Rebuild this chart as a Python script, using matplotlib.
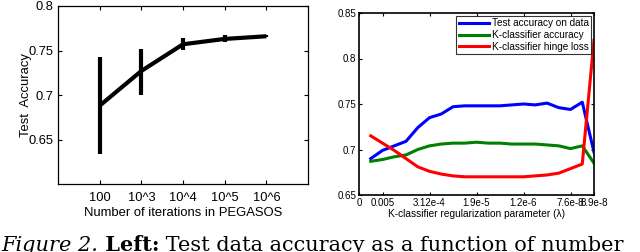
import numpy as np
import matplotlib
matplotlib.use('Agg')
import matplotlib.pyplot as plt

plt.rcParams['font.family'] = ['Liberation Sans', 'DejaVu Sans']

# left panel: PEGASOS iterations
iter_labels = ['100', '10^3', '10^4', '10^5', '10^6']
iter_pos = [1, 2, 3, 4, 5]
acc_mean = [0.688, 0.727, 0.757, 0.763, 0.766]
acc_lo = [0.634, 0.700, 0.751, 0.760, 0.765]
acc_hi = [0.743, 0.752, 0.764, 0.767, 0.767]

# right panel: regularization sweep
lam_pos = [0.5, 1.0, 1.5, 2.0, 2.5, 3.0, 3.5, 4.0, 4.5, 5.0,
           5.5, 6.0, 6.5, 7.0, 7.5, 8.0, 8.5, 9.0, 9.5, 10.0]
test_acc = [0.690, 0.699, 0.704, 0.709, 0.724, 0.735, 0.739, 0.747, 0.748, 0.748,
            0.748, 0.748, 0.749, 0.750, 0.749, 0.751, 0.746, 0.744, 0.752, 0.697]
kc_acc = [0.687, 0.689, 0.692, 0.694, 0.700, 0.704, 0.706, 0.707, 0.707, 0.708,
          0.707, 0.707, 0.706, 0.706, 0.706, 0.705, 0.704, 0.701, 0.704, 0.685]
kc_hinge = [0.715, 0.707, 0.699, 0.690, 0.681, 0.676, 0.673, 0.671, 0.670, 0.670,
            0.670, 0.670, 0.670, 0.670, 0.671, 0.672, 0.674, 0.679, 0.684, 0.820]
lam_tick_pos = [0, 1, 3, 5, 7, 9, 10]
lam_tick_labels = ['0', '0.005', '3.12e-4', '1.9e-5', '1.2e-6', '7.6e-8', '8.9e-8']

W, H = 640, 252
fig = plt.figure(figsize=(6.4, 2.52), dpi=100)

###################### left ######################
ax1 = fig.add_axes([58/W, 1-184/H, 250/W, 178/H])
ax1.plot(iter_pos, acc_mean, color='black', lw=3, solid_capstyle='butt')
ax1.vlines(iter_pos, acc_lo, acc_hi, color='black', lw=3)
ax1.set_xlim(0, 6)
ax1.set_ylim(0.6, 0.8)
ax1.set_xticks(iter_pos)
ax1.set_xticklabels(iter_labels)
ax1.set_yticks([0.65, 0.7, 0.75, 0.8])
ax1.set_yticklabels(['0.65', '0.7', '0.75', '0.8'])
ax1.tick_params(direction='in', length=3, top=True, right=True, labelsize=9.3, pad=3)
ax1.tick_params(axis='x', pad=6)
ax1.set_xlabel('Number of iterations in PEGASOS', fontsize=9.4, labelpad=2)
ax1.set_ylabel('Test  Accuracy', fontsize=9.4, labelpad=-2)
for s in ax1.spines.values():
    s.set_linewidth(0.9)

###################### right ######################
ax2 = fig.add_axes([359/W, 1-195/H, 235/W, 182/H])
ax2.plot(lam_pos, test_acc, color='#0000ff', lw=2.2, label='Test accuracy on data')
ax2.plot(lam_pos, kc_acc, color='#008000', lw=2.2, label='K-classifier accuracy')
ax2.plot(lam_pos, kc_hinge, color='#ff0000', lw=2.2, label='K-classifier hinge loss')
ax2.set_xlim(0, 10)
ax2.set_ylim(0.65, 0.85)
ax2.set_xticks(lam_tick_pos)
ax2.set_xticklabels(lam_tick_labels)
ax2.set_yticks([0.65, 0.7, 0.75, 0.8, 0.85])
ax2.set_yticklabels(['0.65', '0.7', '0.75', '0.8', '0.85'])
ax2.tick_params(direction='in', length=2.5, top=True, right=True, labelsize=7, pad=2)
ax2.set_xlabel('K-classifier regularization parameter (λ)', fontsize=7.3, labelpad=1)
for s in ax2.spines.values():
    s.set_linewidth(1.2)
leg = ax2.legend(loc='upper right', fontsize=7.2, frameon=True, fancybox=False,
                 borderaxespad=0.3, handlelength=3.0, handletextpad=0.3,
                 borderpad=0.25, labelspacing=0.15)
leg.get_frame().set_edgecolor('black')
leg.get_frame().set_linewidth(0.8)

###################### caption ######################
fig.canvas.draw()
r = fig.canvas.get_renderer()
x = 1/W
parts = [('Figure 2.', 'italic', 'normal'), (' Left:', 'normal', 'bold'),
         (' Test data accuracy as a function of number', 'normal', 'normal')]
for txt, st, wt in parts:
    t = fig.text(x, 1/H, txt, fontsize=15, family='DejaVu Serif',
                 style=st, weight=wt, va='baseline', ha='left')
    bb = t.get_window_extent(renderer=r)
    x = bb.x1 / W

fig.savefig('out.png', dpi=100)
